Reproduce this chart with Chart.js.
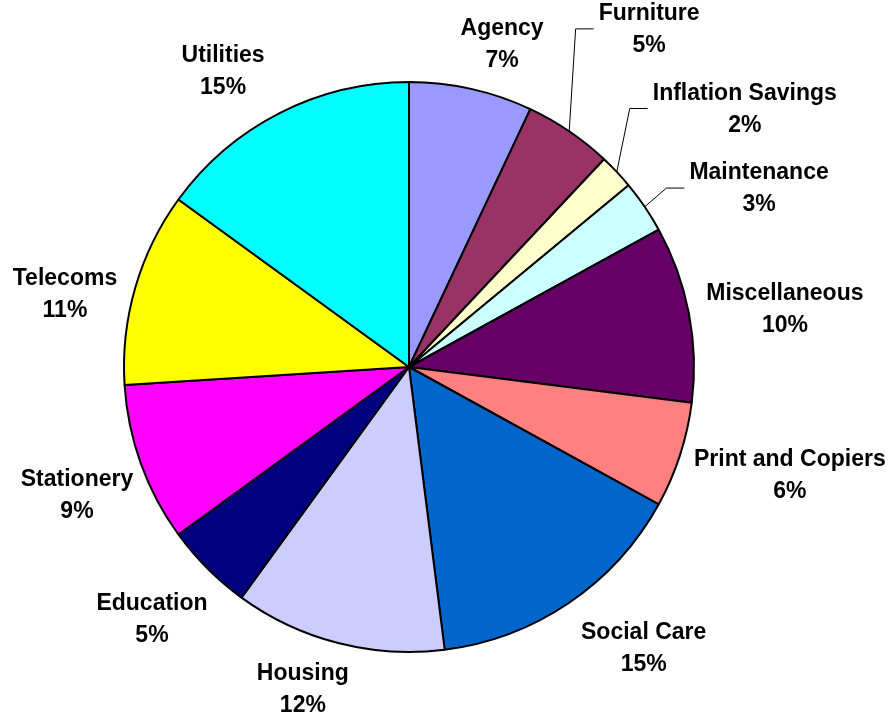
<!DOCTYPE html>
<html>
<head>
<meta charset="utf-8">
<title>Spend by category</title>
<script src="https://cdn.jsdelivr.net/npm/chart.js@4"></script>
<style>
  html, body { margin: 0; padding: 0; background: #fff; }
  #wrap { position: relative; width: 891px; height: 715px; }
</style>
</head>
<body>
<div id="wrap">
  <canvas id="pie-chart" width="891" height="715"></canvas>
</div>
<script>
// categories, clockwise from 12 o'clock
const categories = [
  'Agency', 'Furniture', 'Inflation Savings', 'Maintenance', 'Miscellaneous',
  'Print and Copiers', 'Social Care', 'Housing', 'Education', 'Stationery',
  'Telecoms', 'Utilities'
];
// share of total spend, %
const shares = [7, 5, 2, 3, 10, 6, 15, 12, 5, 9, 11, 15];

const sliceColours = [
  '#9999FF', '#993366', '#FFFFCC', '#CCFFFF', '#660066', '#FF8080',
  '#0066CC', '#CCCCFF', '#000080', '#FF00FF', '#FFFF00', '#00FFFF'
];

// label placement: angle nudge (deg) from slice middle, distance as multiple of radius
const labelNudge  = [3.4, 1.1, 5.5, 7.0, 1.9, -2.3, -5.8, 3.9, 0.7, -1.1, -4.0, -5.0];
const labelReach  = [1.185, 1.458, 1.489, 1.381, 1.335, 1.388, 1.281, 1.186, 1.260, 1.247, 1.235, 1.231];
const hasLeader   = [false, true, true, true, false, false, false, false, false, false, false, false];

const LABEL_FONT = 'bold 23px "Liberation Sans", Arial, sans-serif';
const LINE_GAP = 32;

const outsideLabels = {
  id: 'outsideLabels',
  afterDatasetsDraw(chart) {
    const ctx = chart.ctx;
    const meta = chart.getDatasetMeta(0);
    const total = shares.reduce((a, b) => a + b, 0);
    ctx.save();
    ctx.font = LABEL_FONT;
    ctx.fillStyle = '#000';
    ctx.textAlign = 'center';
    ctx.textBaseline = 'middle';
    meta.data.forEach((arc, i) => {
      const p = arc.getProps(['x', 'y', 'startAngle', 'endAngle', 'outerRadius'], true);
      const mid = (p.startAngle + p.endAngle) / 2;
      const a = mid + labelNudge[i] * Math.PI / 180;
      const cx = p.x + Math.cos(a) * p.outerRadius * labelReach[i];
      const cy = p.y + Math.sin(a) * p.outerRadius * labelReach[i];
      const lines = [categories[i], Math.round(shares[i] / total * 100) + '%'];

      if (hasLeader[i]) {
        const w = Math.max(...lines.map(t => ctx.measureText(t).width));
        const endX = cx - w / 2 - 5;
        const endY = cy + 1;
        ctx.beginPath();
        ctx.moveTo(p.x + Math.cos(mid) * p.outerRadius, p.y + Math.sin(mid) * p.outerRadius);
        ctx.lineTo(endX - 18, endY);
        ctx.lineTo(endX, endY);
        ctx.lineWidth = 1;
        ctx.strokeStyle = '#000';
        ctx.stroke();
      }

      // middle baseline sits a little high for this font
      ctx.fillText(lines[0], cx, cy - LINE_GAP / 2 + 2);
      ctx.fillText(lines[1], cx, cy + LINE_GAP / 2 + 2);
    });
    ctx.restore();
  }
};

let config = {
  type: 'pie',
  data: {
    labels: categories,
    datasets: [{
      data: shares,
      backgroundColor: sliceColours,
      borderColor: '#000',
      borderWidth: 2
    }]
  },
  options: {
    responsive: false,
    animation: false,
    radius: 285,
    layout: { padding: { left: 0, right: 73, top: 19, bottom: 0 } },
    plugins: {
      legend: { display: false },
      tooltip: { enabled: false }
    }
  },
  plugins: [outsideLabels]
};

let ctx = document.getElementById('pie-chart').getContext('2d');
window.myPie = new Chart(ctx, config);
</script>
</body>
</html>
